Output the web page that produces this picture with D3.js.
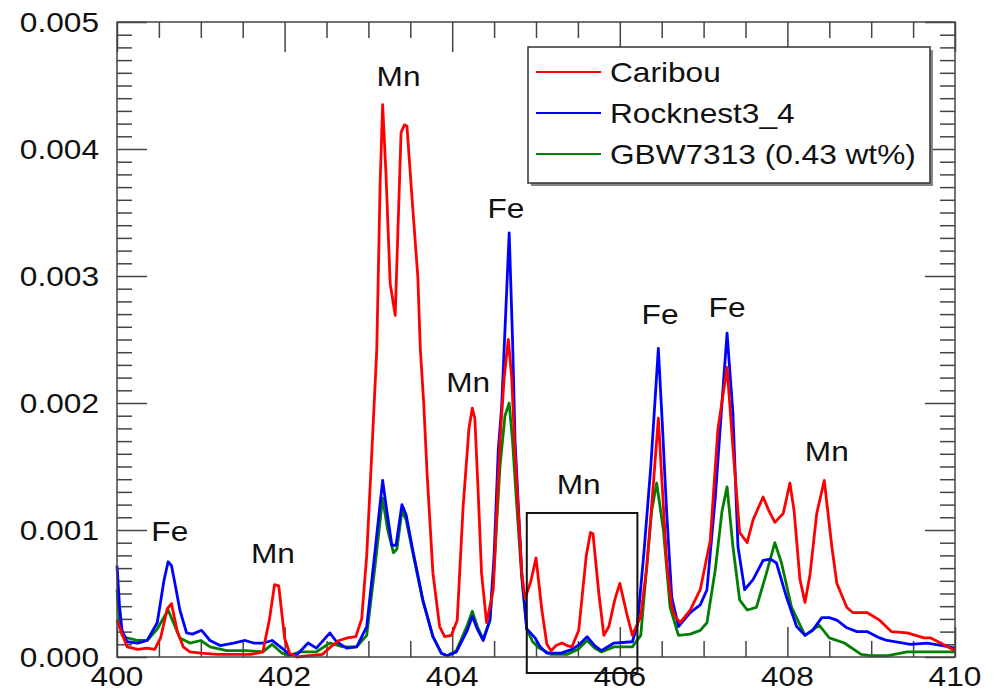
<!DOCTYPE html>
<html>
<head>
<meta charset="utf-8">
<script src="https://cdn.jsdelivr.net/npm/d3@7"></script>
<style>
  body { margin: 0; background: #fff; }
  text { font-family: "Liberation Sans", Arial, Helvetica, sans-serif; fill: #111; }
</style>
</head>
<body>
<div id="chart"></div>
<script>
// Spectra: [wavelength (nm), intensity]
const caribou = [
  [400.00, 0.00029], [400.12, 0.00008], [400.25, 0.00006], [400.36, 0.00007], [400.45, 0.00006],
  [400.52, 0.00015], [400.60, 0.00038], [400.65, 0.00042], [400.72, 0.00020], [400.79, 0.00008],
  [400.87, 0.00004], [401.00, 0.00003], [401.20, 0.00002], [401.40, 0.00002], [401.60, 0.00002],
  [401.74, 0.00004], [401.82, 0.00030], [401.88, 0.00057], [401.93, 0.00056], [402.00, 0.00015],
  [402.06, 0.00003], [402.15, 0.00000], [402.30, 0.00001], [402.45, 0.00002], [402.55, 0.00008],
  [402.65, 0.00013], [402.75, 0.00015], [402.85, 0.00016], [402.92, 0.00030], [402.98, 0.00080],
  [403.04, 0.00160], [403.10, 0.00242], [403.14, 0.00373], [403.17, 0.00435], [403.21, 0.00380],
  [403.26, 0.00294], [403.32, 0.00269], [403.39, 0.00413], [403.43, 0.00419], [403.46, 0.00418],
  [403.52, 0.00362], [403.59, 0.00299], [403.62, 0.00242], [403.66, 0.00200], [403.70, 0.00145],
  [403.77, 0.00066], [403.85, 0.00024], [403.91, 0.00016], [403.99, 0.00017], [404.06, 0.00029],
  [404.13, 0.00118], [404.20, 0.00180], [404.24, 0.00196], [404.27, 0.00188], [404.31, 0.00130],
  [404.35, 0.00066], [404.41, 0.00027], [404.49, 0.00053], [404.57, 0.00170], [404.62, 0.00220],
  [404.67, 0.00250], [404.71, 0.00220], [404.75, 0.00160], [404.83, 0.00066], [404.87, 0.00046],
  [404.94, 0.00060], [405.00, 0.00078], [405.07, 0.00037], [405.13, 0.00010], [405.18, 0.00005],
  [405.24, 0.00009], [405.31, 0.00011], [405.37, 0.00009], [405.43, 0.00008], [405.51, 0.00021],
  [405.60, 0.00080], [405.65, 0.00098], [405.68, 0.00097], [405.75, 0.00050], [405.81, 0.00017],
  [405.87, 0.00024], [405.94, 0.00045], [406.00, 0.00058], [406.08, 0.00035], [406.15, 0.00017],
  [406.25, 0.00032], [406.32, 0.00070], [406.37, 0.00110], [406.46, 0.00188], [406.51, 0.00130],
  [406.56, 0.00074], [406.62, 0.00040], [406.66, 0.00032], [406.72, 0.00027], [406.84, 0.00037],
  [406.96, 0.00053], [407.08, 0.00092], [407.17, 0.00179], [407.28, 0.00228], [407.35, 0.00165],
  [407.43, 0.00098], [407.52, 0.00090], [407.59, 0.00108], [407.71, 0.00126], [407.78, 0.00115],
  [407.85, 0.00106], [407.95, 0.00113], [408.03, 0.00137], [408.08, 0.00115], [408.15, 0.00061],
  [408.21, 0.00043], [408.27, 0.00065], [408.35, 0.00113], [408.44, 0.00139], [408.53, 0.00087],
  [408.59, 0.00058], [408.71, 0.00039], [408.78, 0.00035], [408.95, 0.00035], [409.10, 0.00029],
  [409.24, 0.00020], [409.43, 0.00019], [409.63, 0.00015], [409.71, 0.00015], [409.83, 0.00011],
  [410.00, 0.00005]
];

const rocknest = [
  [400.00, 0.00072], [400.03, 0.00040], [400.06, 0.00021], [400.12, 0.00012], [400.25, 0.00011],
  [400.36, 0.00013], [400.48, 0.00027], [400.56, 0.00060], [400.61, 0.00075], [400.65, 0.00072],
  [400.70, 0.00055], [400.75, 0.00037], [400.83, 0.00019], [400.90, 0.00018], [401.01, 0.00021],
  [401.11, 0.00013], [401.23, 0.00009], [401.39, 0.00011], [401.53, 0.00013], [401.63, 0.00011],
  [401.75, 0.00011], [401.85, 0.00013], [401.95, 0.00008], [402.06, 0.00002], [402.15, 0.00002],
  [402.28, 0.00011], [402.38, 0.00007], [402.54, 0.00019], [402.62, 0.00012], [402.74, 0.00007],
  [402.86, 0.00008], [402.98, 0.00024], [403.08, 0.00084], [403.17, 0.00139], [403.22, 0.00115],
  [403.28, 0.00088], [403.33, 0.00088], [403.40, 0.00120], [403.45, 0.00112], [403.53, 0.00084],
  [403.65, 0.00045], [403.77, 0.00016], [403.87, 0.00003], [403.94, 0.00001], [404.05, 0.00004],
  [404.18, 0.00021], [404.24, 0.00032], [404.30, 0.00022], [404.37, 0.00013], [404.45, 0.00029],
  [404.50, 0.00080], [404.55, 0.00163], [404.59, 0.00197], [404.68, 0.00334], [404.72, 0.00250],
  [404.75, 0.00170], [404.83, 0.00066], [404.89, 0.00022], [404.99, 0.00015], [405.05, 0.00008],
  [405.13, 0.00003], [405.30, 0.00003], [405.43, 0.00006], [405.52, 0.00010], [405.61, 0.00016],
  [405.70, 0.00009], [405.78, 0.00005], [405.93, 0.00011], [406.15, 0.00012], [406.21, 0.00025],
  [406.29, 0.00084], [406.37, 0.00150], [406.46, 0.00243], [406.51, 0.00180], [406.56, 0.00113],
  [406.62, 0.00047], [406.70, 0.00024], [406.84, 0.00035], [406.96, 0.00041], [407.04, 0.00053],
  [407.14, 0.00126], [407.23, 0.00210], [407.28, 0.00255], [407.35, 0.00192], [407.41, 0.00087],
  [407.49, 0.00053], [407.59, 0.00061], [407.71, 0.00076], [407.80, 0.00077], [407.87, 0.00074],
  [407.99, 0.00047], [408.11, 0.00024], [408.21, 0.00017], [408.30, 0.00021], [408.41, 0.00031],
  [408.50, 0.00031], [408.59, 0.00029], [408.71, 0.00023], [408.83, 0.00020], [408.95, 0.00020],
  [409.10, 0.00015], [409.19, 0.00013], [409.47, 0.00010], [409.67, 0.00011], [409.85, 0.00009],
  [410.00, 0.00007]
];

const gbw7313 = [
  [400.00, 0.00053], [400.03, 0.00030], [400.06, 0.00017], [400.12, 0.00015], [400.25, 0.00013],
  [400.36, 0.00013], [400.48, 0.00022], [400.61, 0.00037], [400.68, 0.00026], [400.75, 0.00015],
  [400.87, 0.00011], [401.00, 0.00013], [401.11, 0.00008], [401.31, 0.00005], [401.55, 0.00005],
  [401.74, 0.00004], [401.85, 0.00010], [401.97, 0.00003], [402.06, 0.00001], [402.18, 0.00004],
  [402.38, 0.00004], [402.54, 0.00011], [402.70, 0.00008], [402.86, 0.00008], [402.98, 0.00017],
  [403.08, 0.00072], [403.17, 0.00125], [403.23, 0.00100], [403.30, 0.00082], [403.34, 0.00085],
  [403.40, 0.00115], [403.45, 0.00108], [403.53, 0.00082], [403.65, 0.00044], [403.77, 0.00016],
  [403.87, 0.00003], [403.94, 0.00001], [404.05, 0.00005], [404.18, 0.00025], [404.24, 0.00036],
  [404.30, 0.00024], [404.37, 0.00014], [404.45, 0.00029], [404.50, 0.00070], [404.57, 0.00150],
  [404.63, 0.00190], [404.68, 0.00200], [404.72, 0.00170], [404.77, 0.00120], [404.83, 0.00062],
  [404.89, 0.00022], [404.96, 0.00012], [405.04, 0.00007], [405.18, 0.00002], [405.37, 0.00002],
  [405.50, 0.00006], [405.61, 0.00013], [405.70, 0.00007], [405.78, 0.00004], [405.93, 0.00008],
  [406.15, 0.00008], [406.25, 0.00017], [406.32, 0.00070], [406.38, 0.00115], [406.44, 0.00137],
  [406.52, 0.00100], [406.60, 0.00039], [406.70, 0.00017], [406.84, 0.00018], [406.96, 0.00021],
  [407.04, 0.00027], [407.14, 0.00069], [407.22, 0.00115], [407.28, 0.00134], [407.35, 0.00087],
  [407.43, 0.00045], [407.52, 0.00037], [407.63, 0.00039], [407.75, 0.00066], [407.85, 0.00090],
  [407.93, 0.00074], [408.05, 0.00039], [408.21, 0.00017], [408.38, 0.00025], [408.50, 0.00015],
  [408.68, 0.00011], [408.88, 0.00002], [408.99, 0.00001], [409.20, 0.00001], [409.43, 0.00004],
  [409.70, 0.00004], [410.00, 0.00004]
];

const seriesNames = ["Caribou", "Rocknest3_4", "GBW7313 (0.43 wt%)"];
const seriesColors = ["#ff0000", "#0000ff", "#008000"];

// Element labels over the peaks: [wavelength, intensity at text baseline]
const peakLabels = ["Fe", "Mn", "Mn", "Fe", "Mn", "Mn", "Fe", "Fe", "Mn"];
const peakLabelX = [400.63, 401.86, 403.36, 404.64, 404.19, 405.51, 406.48, 407.28, 408.47];
const peakLabelY = [0.00091, 0.00074, 0.00450, 0.00346, 0.00209, 0.00128, 0.00262, 0.00268, 0.00154];

// Highlighted window (wavelength range, intensity range)
const boxX = [404.89, 406.21];
const boxY = [-0.000126, 0.001134];

const xMajorTicks = [400, 402, 404, 406, 408, 410];
const yMajorTicks = [0, 0.001, 0.002, 0.003, 0.004, 0.005];

const width = 994, height = 692;
const margin = { top: 22, right: 39, bottom: 35, left: 117 };
const innerW = width - margin.left - margin.right;
const innerH = height - margin.top - margin.bottom;
const stretch = 1.13; // the reference text is a bit wide

const svg = d3.select("#chart").append("svg")
  .attr("width", width)
  .attr("height", height);

const g = svg.append("g")
  .attr("transform", `translate(${margin.left},${margin.top})`);

const x = d3.scaleLinear().domain([400, 410]).range([0, innerW]);
const y = d3.scaleLinear().domain([0, 0.005]).range([innerH, 0]);

// minor ticks every 0.5 nm and every 0.0001
const xMinor = d3.range(400, 410.01, 0.5).filter(v => Math.abs(v % 2) > 0.01);
const yMinor = d3.range(0, 0.00501, 0.0001).filter((v, i) => i % 10 !== 0);

function stretchedText(sel, px, py, txt, anchor) {
  sel.append("text")
    .attr("transform", `translate(${px},${py}) scale(${stretch},1)`)
    .attr("text-anchor", anchor)
    .attr("font-size", 28)
    .text(txt);
}

// axes with inward ticks
function drawAxis(axis, transform) {
  const a = g.append("g").attr("transform", transform).call(axis);
  a.select(".domain").remove();
  a.selectAll("text").remove();
  a.selectAll("line").attr("stroke", "#444").attr("stroke-width", 1.5);
}
drawAxis(d3.axisBottom(x).tickValues(xMinor).tickSize(-16), `translate(0,${innerH})`);
drawAxis(d3.axisBottom(x).tickValues(xMajorTicks).tickSize(-30), `translate(0,${innerH})`);
drawAxis(d3.axisTop(x).tickValues(xMinor).tickSize(-16), "translate(0,0)");
drawAxis(d3.axisTop(x).tickValues(xMajorTicks).tickSize(-30), "translate(0,0)");
drawAxis(d3.axisLeft(y).tickValues(yMinor).tickSize(-15), "translate(0,0)");
drawAxis(d3.axisLeft(y).tickValues(yMajorTicks).tickSize(-30), "translate(0,0)");
drawAxis(d3.axisRight(y).tickValues(yMinor).tickSize(-15), `translate(${innerW},0)`);
drawAxis(d3.axisRight(y).tickValues(yMajorTicks).tickSize(-30), `translate(${innerW},0)`);

// tick labels
xMajorTicks.forEach(v => stretchedText(g, x(v), innerH + 29, String(v), "middle"));
yMajorTicks.forEach(v => stretchedText(g, -18, y(v) + 10, v.toFixed(3), "end"));

// spectra
const line = d3.line()
  .x(d => x(d[0]))
  .y(d => y(d[1]));

[gbw7313, rocknest, caribou].forEach((data, i) => {
  const k = 2 - i;
  g.append("path")
    .datum(data)
    .attr("fill", "none")
    .attr("stroke", seriesColors[k])
    .attr("stroke-width", 2.8)
    .attr("stroke-linejoin", "round")
    .attr("d", line);
});

// frame
g.append("rect")
  .attr("width", innerW)
  .attr("height", innerH)
  .attr("fill", "none")
  .attr("stroke", "#444")
  .attr("stroke-width", 1.5);

// highlight window
g.append("rect")
  .attr("x", x(boxX[0]))
  .attr("y", y(boxY[1]))
  .attr("width", x(boxX[1]) - x(boxX[0]))
  .attr("height", y(boxY[0]) - y(boxY[1]))
  .attr("fill", "none")
  .attr("stroke", "#111")
  .attr("stroke-width", 2);

// peak labels
peakLabels.forEach((t, i) => stretchedText(g, x(peakLabelX[i]), y(peakLabelY[i]), t, "middle"));

// legend
const lg = svg.append("g").attr("transform", "translate(528,47)");
lg.append("rect")
  .attr("x", 3).attr("y", 3)
  .attr("width", 402).attr("height", 136)
  .attr("fill", "#888");
lg.append("rect")
  .attr("width", 402).attr("height", 136)
  .attr("fill", "#fff")
  .attr("stroke", "#333")
  .attr("stroke-width", 1.5);
seriesNames.forEach((name, i) => {
  const ry = 25 + i * 41;
  lg.append("line")
    .attr("x1", 8).attr("x2", 73)
    .attr("y1", ry).attr("y2", ry)
    .attr("stroke", seriesColors[i])
    .attr("stroke-width", 2);
  stretchedText(lg, 82, ry + 10, name, "start");
});
</script>
</body>
</html>
